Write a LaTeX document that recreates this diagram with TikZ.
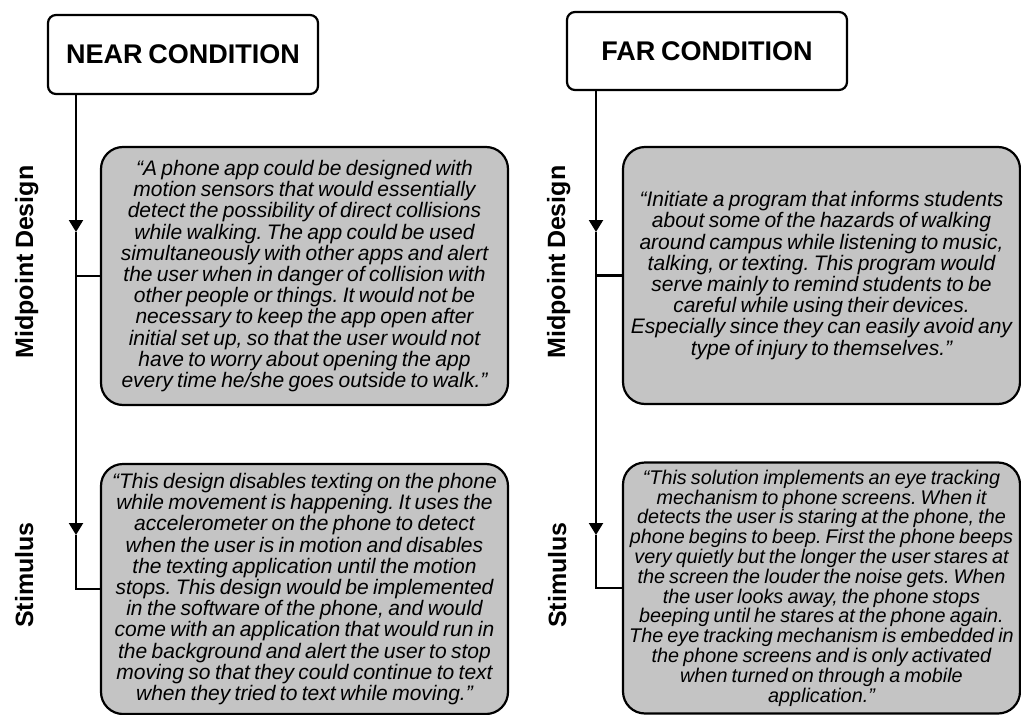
\documentclass[tikz,border=0pt]{standalone}
\usepackage{fontspec}
\setmainfont{Liberation Sans}[WordSpace=0.75]
\usetikzlibrary{arrows.meta}
\definecolor{boxgray}{RGB}{196,196,196}
\begin{document}
\begin{tikzpicture}[x=1pt,y=-1pt,
  conn/.style={line width=2.2pt, draw=black},
  arr/.style={conn, -{Triangle[width=14pt,length=12pt]}},
  titlebox/.style={draw=black, line width=2.2pt, rounded corners=8pt, fill=white,
    inner sep=0pt, font=\fontsize{27}{30}\selectfont\bfseries},
  quotebox/.style={draw=black, line width=2.2pt, rounded corners=22pt, fill=boxgray,
    inner sep=0pt, align=center, font=\fontsize{21}{21.2}\selectfont\itshape\frenchspacing},
  sidelabel/.style={rotate=90, anchor=base, font=\fontsize{25}{28}\selectfont\bfseries}
]
\useasboundingbox (0,0) rectangle (1021,715);

% title boxes
\node[titlebox, minimum width=270pt, minimum height=79pt] (near) at (183,54.5) {NEAR CONDITION};
\node[titlebox, minimum width=280pt, minimum height=78pt] (far) at (707,51) {FAR CONDITION};

% side labels
\node[sidelabel] (lnm) at (33,262) {Midpoint Design};
\node[sidelabel] (lns) at (33,575) {Stimulus};
\node[sidelabel] (lfm) at (565,262) {Midpoint Design};
\node[sidelabel] (lfs) at (566,575) {Stimulus};

% quote boxes
\node[quotebox, minimum width=407pt, minimum height=258pt] (nearMid) at (304.5,276) {%
“A phone app could be designed with\\
motion sensors that would essentially\\
detect the possibility of direct collisions\\
while walking. The app could be used\\
simultaneously with other apps and alert\\
the user when in danger of collision with\\
other people or things. It would not be\\
necessary to keep the app open after\\
initial set up, so that the user would not\\
have to worry about opening the app\\
every time he/she goes outside to walk.”};

\node[quotebox, minimum width=407pt, minimum height=250pt] (nearStim) at (304.5,589) {%
“This design disables texting on the phone\\
while movement is happening. It uses the\\
accelerometer on the phone to detect\\
when the user is in motion and disables\\
the texting application until the motion\\
stops. This design would be implemented\\
in the software of the phone, and would\\
come with an application that would run in\\
the background and alert the user to stop\\
moving so that they could continue to text\\
when they tried to text while moving.”};

\node[quotebox, minimum width=397pt, minimum height=257pt] (farMid) at (821.5,275.5) {%
“Initiate a program that informs students\\
about some of the hazards of walking\\
around campus while listening to music,\\
talking, or texting. This program would\\
serve mainly to remind students to be\\
careful while using their devices.\\
Especially since they can easily avoid any\\
type of injury to themselves.”};

\node[quotebox, minimum width=397pt, minimum height=251pt,
  font=\fontsize{19.8}{19.8}\selectfont\itshape\frenchspacing] (farStim) at (821.5,588) {%
“This solution implements an eye tracking\\
mechanism to phone screens. When it\\
detects the user is staring at the phone, the\\
phone begins to beep. First the phone beeps\\
very quietly but the longer the user stares at\\
the screen the louder the noise gets. When\\
the user looks away, the phone stops\\
beeping until he stares at the phone again.\\
The eye tracking mechanism is embedded in\\
the phone screens and is only activated\\
when turned on through a mobile\\
application.”};

% connectors near
\coordinate (na1) at (76,232);
\coordinate (na2) at (76,535);
\draw[arr] (near.south -| na1) -- (na1);
\draw[arr] (na1) -- (na2);
\draw[conn] (na2) |- (nearStim.west);
\draw[conn] (nearMid.west -| na1) -- (nearMid.west);

% connectors far
\coordinate (fa1) at (596,232);
\coordinate (fa2) at (596,535);
\draw[arr] (far.south -| fa1) -- (fa1);
\draw[arr] (fa1) -- (fa2);
\draw[conn] (fa2) |- (farStim.west);
\draw[conn] (farMid.west -| fa1) -- (farMid.west);
\end{tikzpicture}
\end{document}
